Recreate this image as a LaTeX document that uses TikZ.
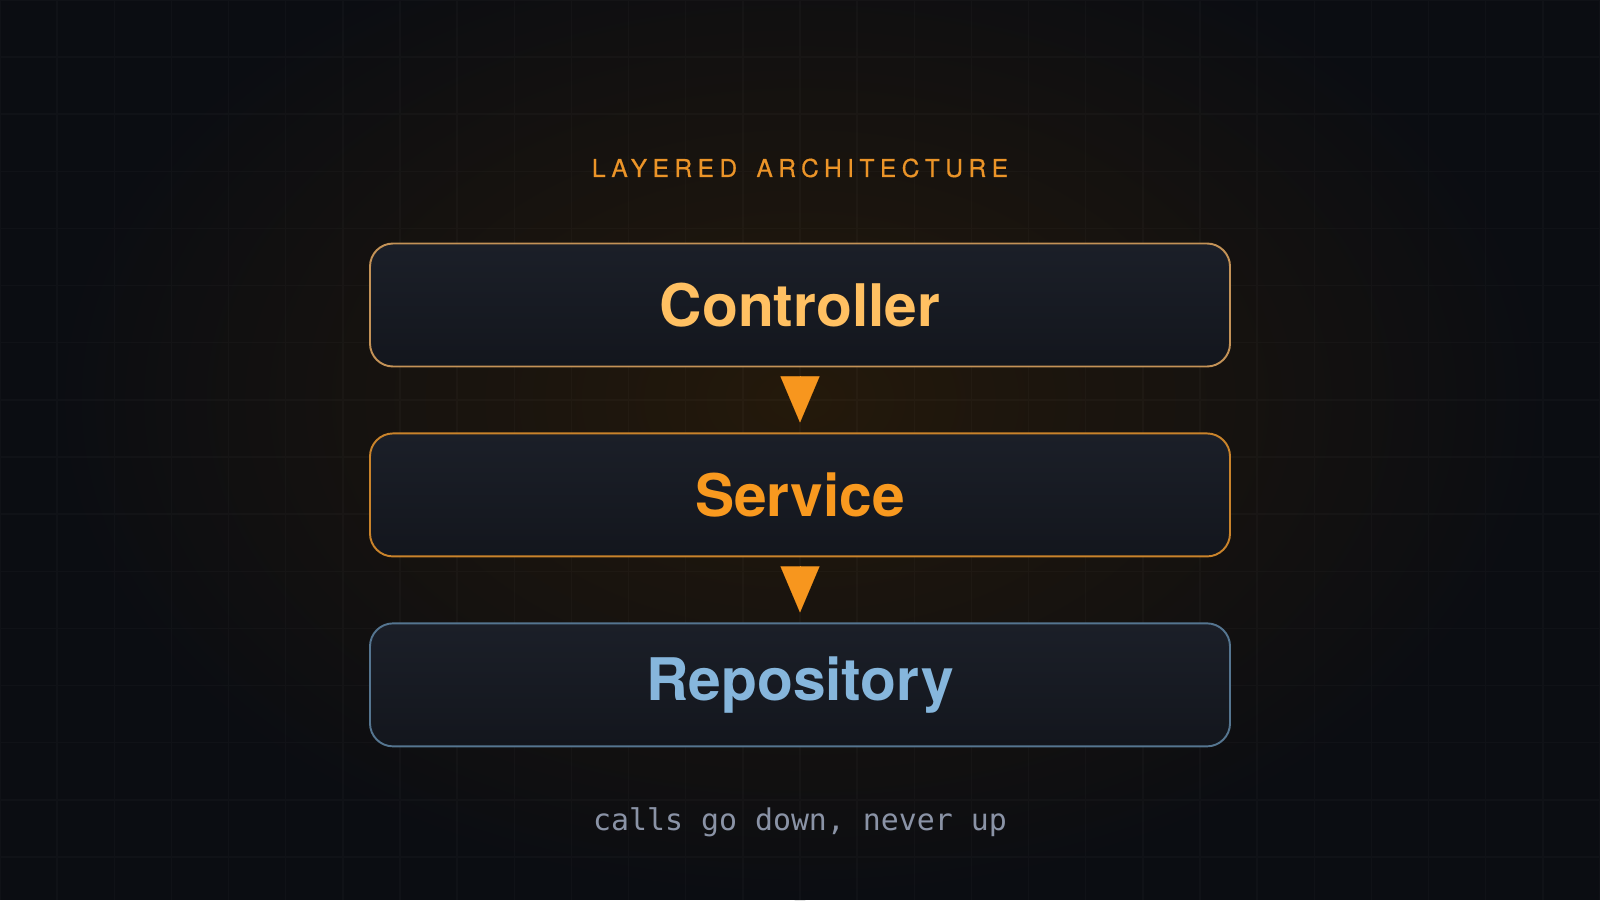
\documentclass[tikz,border=0pt]{standalone}
\usepackage{fontspec}
\setmainfont{TeX Gyre Heros}
\newfontfamily\monofont{DejaVu Sans Mono}
\newfontfamily\spacedfont[LetterSpace=22, FakeBold=0.4]{TeX Gyre Heros}
\usetikzlibrary{shapes, arrows.meta, positioning}
\definecolor{bgc}{HTML}{0B0D12}
\definecolor{glowc}{HTML}{24190B}
\definecolor{boxtop}{HTML}{1B1F28}
\definecolor{boxbot}{HTML}{13161D}
\definecolor{ctrlline}{HTML}{C39257}
\definecolor{ctrltext}{HTML}{FFC062}
\definecolor{servline}{HTML}{C9832B}
\definecolor{servtext}{HTML}{F8991F}
\definecolor{repoline}{HTML}{557590}
\definecolor{repotext}{HTML}{86B6DC}
\definecolor{callc}{HTML}{F7961E}
\definecolor{titlec}{HTML}{EB9428}
\definecolor{notec}{HTML}{8A93A6}
\tikzstyle{layer} = [rectangle, rounded corners=0.23cm, line width=0.55pt, top color=boxtop, bottom color=boxbot, minimum width=8.6cm, minimum height=1.23cm, font=\fontsize{16.7}{20}\selectfont\bfseries]
\tikzstyle{calls} = [draw=callc, line width=0.01pt, -{Triangle[length=0.46cm, width=0.39cm]}, shorten <=0.2cm, shorten >=0.1cm]
\tikzstyle{heading} = [text=titlec, font=\fontsize{7}{8}\selectfont\spacedfont]
\tikzstyle{note} = [text=notec, font=\fontsize{8.5}{10}\selectfont\monofont]

\begin{document}
\begin{tikzpicture}
	\fill[bgc] (0,0) rectangle (16,9);
	\useasboundingbox (0,0) rectangle (16,9);
	\shade[inner color=glowc, outer color=bgc] (8,5) ellipse (7.5cm and 5cm);
	\draw[white, opacity=0.025, line width=0.4pt, step=0.5714cm, yshift=0.43cm] (0,-1) grid (16,9);
	\node[heading] (title) at (8,7.32) {LAYERED\hspace{2pt} ARCHITECTURE};
	\node[layer, draw=ctrlline, text=ctrltext] (controller) at (8,5.95) {Controller};
	\node[layer, draw=servline, text=servtext, below=0.65cm of controller] (service) {Service};
	\node[layer, draw=repoline, text=repotext, below=0.65cm of service] (repository) {Repository};
	\draw[calls] (controller) -- (service);
	\draw[calls] (service) -- (repository);
	\node[note] (footer) at (8,0.78) {calls go down, never up};
\end{tikzpicture}
\end{document}
